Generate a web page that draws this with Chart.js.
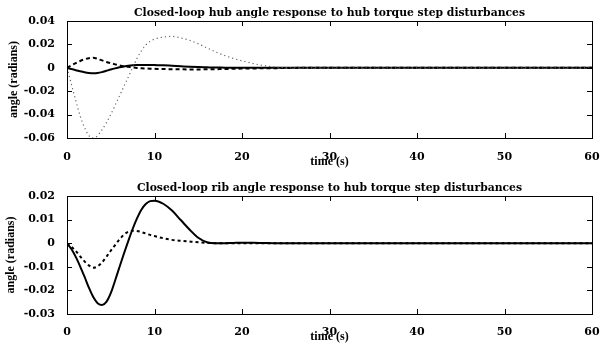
<!DOCTYPE html>
<html><head><meta charset="utf-8">
<script src="https://cdn.jsdelivr.net/npm/chart.js@4/dist/chart.umd.min.js"></script>
<style>
html,body{margin:0;padding:0;background:#fff;}
#w1,#w2{position:absolute;left:0;width:608px;}
#w1{top:0;height:172px}
#w2{top:172px;height:173px}
</style></head><body>
<div id="w1"><canvas id="c1" width="608" height="172"></canvas></div>
<div id="w2"><canvas id="c2" width="608" height="173"></canvas></div>
<script>
// time samples (s)
const time      = [0, 0.5, 1, 1.5, 2, 2.5, 3, 3.5, 4, 4.5, 5, 5.5, 6, 6.5, 7, 7.5, 8, 8.5, 9, 9.5, 10, 11, 12, 13, 14, 15, 16, 17, 18, 19, 20, 22, 24, 26, 28, 30, 40, 50, 60];
// hub angle responses (radians)
const hubSolid  = [0, -0.0011, -0.0021, -0.003, -0.0038, -0.0044, -0.0047, -0.0045, -0.0037, -0.0026, -0.0015, -0.0005, 0.0004, 0.0011, 0.0017, 0.0021, 0.0023, 0.0024, 0.0024, 0.0024, 0.0023, 0.0021, 0.0017, 0.0013, 0.0009, 0.0006, 0.0004, 0.0002, 0.0001, 0, 0, 0, 0, 0, 0, 0, 0, 0, 0];
const hubDashed = [0, 0.002, 0.004, 0.0058, 0.0072, 0.0082, 0.0085, 0.0076, 0.0063, 0.005, 0.0039, 0.0029, 0.002, 0.0013, 0.0008, 0.0003, -0.0001, -0.0004, -0.0006, -0.0008, -0.0009, -0.0011, -0.0012, -0.0013, -0.0014, -0.0014, -0.0013, -0.0012, -0.001, -0.0009, -0.0007, -0.0005, -0.0003, -0.0001, 0, 0, 0, 0, 0];
const hubDotted = [0, -0.014, -0.028, -0.041, -0.051, -0.058, -0.06, -0.058, -0.053, -0.047, -0.04, -0.032, -0.024, -0.016, -0.008, 0, 0.008, 0.0145, 0.0195, 0.0225, 0.0245, 0.0262, 0.0268, 0.0255, 0.0235, 0.0205, 0.017, 0.0135, 0.0105, 0.008, 0.006, 0.0025, 0.0005, 0, 0, 0, 0, 0, 0];
// rib angle responses (radians)
const ribSolid  = [0, -0.0025, -0.0058, -0.0098, -0.0142, -0.0188, -0.0228, -0.0254, -0.0262, -0.0249, -0.0212, -0.0158, -0.0101, -0.0045, 0.0009, 0.006, 0.0105, 0.0142, 0.0166, 0.0178, 0.018, 0.0167, 0.0138, 0.0098, 0.0058, 0.0023, 0.0004, 0, 0, 0.0001, 0.0002, 0.0001, 0, 0, 0, 0, 0, 0, 0];
const ribDashed = [0, -0.0015, -0.0033, -0.0056, -0.0077, -0.0094, -0.0104, -0.0098, -0.0082, -0.0058, -0.0032, -0.0008, 0.0016, 0.0036, 0.0048, 0.0053, 0.0052, 0.0047, 0.0041, 0.0035, 0.003, 0.0021, 0.0014, 0.001, 0.0007, 0.0004, 0.0001, 0, 0, 0, 0, 0, 0, 0, 0, 0, 0, 0, 0];
// axis ranges / titles
const xRange = [0, 60, 10];
const hubYRange = [-0.06, 0.04, 0.02];
const ribYRange = [-0.03, 0.02, 0.01];
const hubTitle = 'Closed-loop hub angle response to hub torque step disturbances';
const ribTitle = 'Closed-loop rib angle response to hub torque step disturbances';
const xTitle = 'time (s)';
const yTitle = 'angle (radians)';

const pts = arr => arr.map((v, i) => ({x: time[i], y: v}));
const tickFont = {family: 'DejaVu Serif', weight: 'bold', size: 11};
const labFont = {family: 'Liberation Serif', weight: 'bold', size: 12};

const boxPlugin = {
  id: 'box',
  afterDraw(chart) {
    const {ctx, chartArea: a, scales} = chart;
    ctx.save();
    ctx.strokeStyle = '#000';
    ctx.lineWidth = 1;
    ctx.strokeRect(Math.round(a.left) + 0.5, Math.round(a.top) + 0.5, Math.round(a.right - a.left), Math.round(a.bottom - a.top));
    ctx.beginPath();
    const L = 5;
    scales.x.ticks.forEach(t => {
      const p = Math.round(scales.x.getPixelForValue(t.value)) + 0.5;
      ctx.moveTo(p, a.bottom); ctx.lineTo(p, a.bottom - L);
      ctx.moveTo(p, a.top); ctx.lineTo(p, a.top + L);
    });
    scales.y.ticks.forEach(t => {
      const p = Math.round(scales.y.getPixelForValue(t.value)) + 0.5;
      ctx.moveTo(a.left, p); ctx.lineTo(a.left + L, p);
      ctx.moveTo(a.right, p); ctx.lineTo(a.right - L, p);
    });
    ctx.stroke();
    ctx.restore();
  }
};

function makeChart(id, title, yRange, datasets, titlePad, xH, xTickPad, xTitlePadB, yTitlePad) {
  return new Chart(document.getElementById(id), {
    type: 'line',
    data: {datasets},
    options: {
      responsive: false,
      animation: false,
      layout: {padding: {left: 0, right: 16, top: 0, bottom: 0}},
      elements: {point: {radius: 0}, line: {cubicInterpolationMode: 'monotone'}},
      plugins: {
        legend: {display: false},
        tooltip: {enabled: false},
        title: {display: true, fullSize: false, text: title, color: '#000', font: {family: 'DejaVu Serif', weight: 'bold', size: 10.8}, padding: titlePad}
      },
      scales: {
        x: {
          type: 'linear', min: xRange[0], max: xRange[1],
          ticks: {stepSize: xRange[2], color: '#000', font: tickFont, padding: xTickPad, maxRotation: 0},
          grid: {display: false}, border: {display: false},
          title: {display: true, text: xTitle, color: '#000', font: labFont, padding: {top: 0, bottom: xTitlePadB}},
          afterFit(s) { s.height = xH; }
        },
        y: {
          type: 'linear', min: yRange[0], max: yRange[1],
          ticks: {stepSize: yRange[2], color: '#000', font: tickFont, padding: 4,
            callback: v => { const r = Math.round(v * 1000) / 1000; return r === 0 ? '0' : r.toFixed(2); }},
          grid: {display: false}, border: {display: false},
          title: {display: true, text: yTitle, color: '#000', font: labFont, padding: {top: yTitlePad, bottom: 0}},
          afterFit(s) { s.width = 67; }
        }
      }
    },
    plugins: [boxPlugin]
  });
}

makeChart('c1', hubTitle, hubYRange, [
  {data: pts(hubDotted), borderColor: '#666', borderWidth: 1.2, borderDash: [1.2, 3], fill: false},
  {data: pts(hubDashed), borderColor: '#000', borderWidth: 2, borderDash: [4, 3], fill: false},
  {data: pts(hubSolid), borderColor: '#000', borderWidth: 2, fill: false}
], {top: 7, bottom: 1}, 34, 5, 3, 7);

makeChart('c2', ribTitle, ribYRange, [
  {data: pts(ribDashed), borderColor: '#000', borderWidth: 2, borderDash: [3, 3], fill: false},
  {data: pts(ribSolid), borderColor: '#000', borderWidth: 2, fill: false}
], {top: 10, bottom: 1}, 31, 4, 1, 4);
</script>
</body></html>
